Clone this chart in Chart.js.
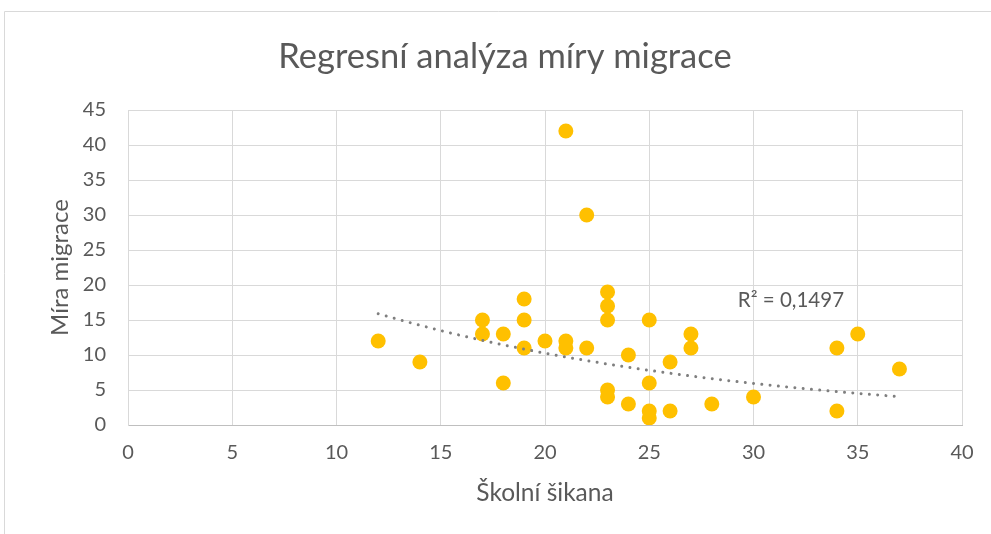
<!DOCTYPE html>
<html>
<head>
<meta charset="utf-8">
<script src="https://cdn.jsdelivr.net/npm/chart.js@4.4.1/dist/chart.umd.min.js"></script>
<style>
  html, body { margin: 0; padding: 0; background: #ffffff; overflow: hidden; }
  #wrap { position: relative; width: 991px; height: 534px; }
</style>
</head>
<body>
<div id="wrap"><canvas id="c" width="991" height="534"></canvas></div>
<script>
// ---- Data ----
const chartTitle = "Regresní analýza míry migrace";
const xAxisTitle = "Školní šikana";
const yAxisTitle = "Míra migrace";
const r2Label = "R² = 0,1497";

const schoolBullying = [12,14,17,17,18,18,19,19,19,20,21,21,21,22,22,23,23,23,23,23,24,24,25,25,25,25,26,26,27,27,28,30,34,34,35,37];
const migrationRate  = [12, 9,15,13,13, 6,18,15,11,12,42,12,11,30,11,19,17,15, 5, 4,10, 3,15, 6, 2, 1, 9, 2,13,11, 3, 4,11, 2,13, 8];

// Exponential trendline end values (x, y)
const trendX = [12, 37];
const trendY = [15.9, 4.05];

const xTicks = [0,5,10,15,20,25,30,35,40];
const yTicks = [0,5,10,15,20,25,30,35,40,45];

const FONT = "Lato";
const TEXT = "#595959";
const GRID = "#d9d9d9";

const points = schoolBullying.map((x, i) => ({ x: x, y: migrationRate[i] }));

// exponential curve y = a*exp(b*x) through the two read end values
const trendB = Math.log(trendY[1] / trendY[0]) / (trendX[1] - trendX[0]);
const trendA = trendY[0] / Math.exp(trendB * trendX[0]);

const framePlugin = {
  id: 'frame',
  beforeDraw(chart) {
    const ctx = chart.ctx;
    ctx.save();
    ctx.strokeStyle = GRID;
    ctx.lineWidth = 1;
    ctx.beginPath();
    ctx.moveTo(4.5, 1000);
    ctx.lineTo(4.5, 11.5);
    ctx.lineTo(2000, 11.5);
    ctx.stroke();
    ctx.restore();
  }
};

const overlayPlugin = {
  id: 'overlay',
  afterDatasetsDraw(chart) {
    const ctx = chart.ctx;
    const xs = chart.scales.x, ys = chart.scales.y;
    const p0 = xs.getPixelForValue(trendX[0]), p1 = xs.getPixelForValue(trendX[1]);
    ctx.save();
    ctx.strokeStyle = "#7f7f7f";
    ctx.lineWidth = 3;
    ctx.lineCap = "round";
    ctx.setLineDash([0.01, 8.3]);
    ctx.beginPath();
    for (let px = p0; px <= p1 + 0.01; px += 1) {
      const xv = xs.getValueForPixel(px);
      const py = ys.getPixelForValue(trendA * Math.exp(trendB * xv));
      if (px === p0) ctx.moveTo(px, py); else ctx.lineTo(px, py);
    }
    ctx.stroke();
    ctx.restore();
  },
  afterDraw(chart) {
    const ctx = chart.ctx;
    const xs = chart.scales.x, ys = chart.scales.y;
    ctx.save();
    ctx.fillStyle = TEXT;
    ctx.font = "20.5px " + FONT;
    ctx.textAlign = "left";
    ctx.textBaseline = "middle";
    ctx.fillText(r2Label, xs.getPixelForValue(29.25), ys.getPixelForValue(17.85));
    ctx.font = "34.5px " + FONT;
    ctx.textAlign = "center";
    ctx.fillText(chartTitle, 505, 57);
    ctx.restore();
  }
};

new Chart(document.getElementById('c'), {
  type: 'scatter',
  data: {
    datasets: [{
      label: yAxisTitle,
      data: points,
      backgroundColor: "#FFC000",
      borderColor: "#FFC000",
      borderWidth: 0,
      pointRadius: 7.5,
      pointHoverRadius: 7.5
    }]
  },
  options: {
    responsive: false,
    animation: false,
    events: [],
    layout: { padding: { left: 0, right: 29, top: 110, bottom: 0 } },
    plugins: {
      legend: { display: false },
      tooltip: { enabled: false },
      title: { display: false }
    },
    scales: {
      x: {
        type: 'linear',
        min: 0, max: 40,
        afterBuildTicks: s => { s.ticks = xTicks.map(v => ({ value: v })); },
        afterFit: s => { s.height = 109; },
        grid: { color: GRID, lineWidth: 1, drawTicks: false },
        border: { color: "#bfbfbf", width: 1 },
        ticks: { color: TEXT, font: { family: FONT, size: 20 }, padding: 16, maxRotation: 0 },
        title: { display: true, text: xAxisTitle, color: TEXT, font: { family: FONT, size: 24.5 }, padding: { top: 0, bottom: 26.5 } }
      },
      y: {
        type: 'linear',
        min: 0, max: 45,
        afterBuildTicks: s => { s.ticks = yTicks.map(v => ({ value: v })); },
        afterFit: s => { s.width = 128; },
        grid: { color: GRID, lineWidth: 1, drawTicks: false },
        border: { color: GRID, width: 1 },
        ticks: { color: TEXT, font: { family: FONT, size: 20 }, padding: 22 },
        title: { display: true, text: yAxisTitle, color: TEXT, font: { family: FONT, size: 24 }, padding: { top: 45.5, bottom: 0 } }
      }
    }
  },
  plugins: [framePlugin, overlayPlugin]
});
</script>
</body>
</html>
